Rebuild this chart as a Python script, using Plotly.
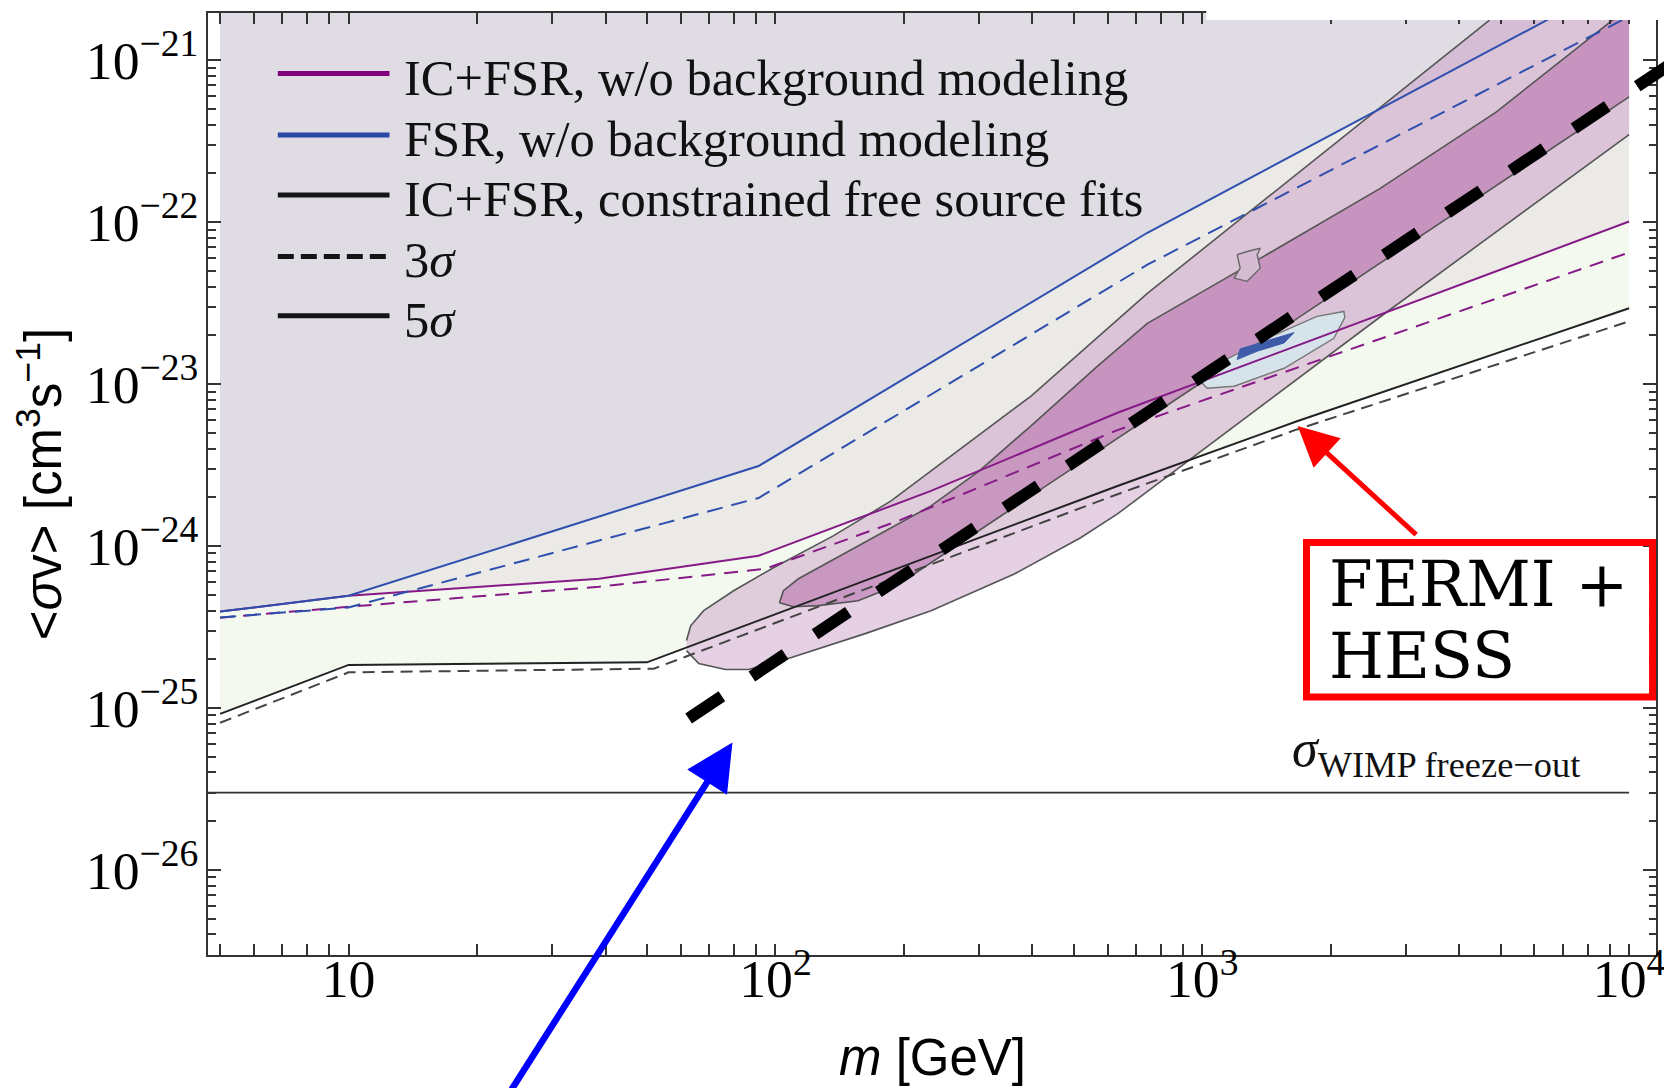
import numpy as np
import plotly.graph_objects as go

# ------------------------------------------------------------------
# Data (m in GeV, <sigma v> in cm^3 s^-1)
# ------------------------------------------------------------------
# FSR, w/o background modeling (5 sigma solid, 3 sigma dashed)
m_fsr5 = [5, 10, 91.3, 743.7, 6398, 10000]
sv_fsr5 = [3.94e-25, 4.93e-25, 3.12e-24, 8.6e-23, 1.76e-21, 3.36e-21]
m_fsr3 = [5, 10, 91.3, 743.7, 10000]
sv_fsr3 = [3.62e-25, 4.18e-25, 1.98e-24, 5.46e-23, 1.86e-21]

# IC+FSR, w/o background modeling
m_ic5 = [5, 10, 38.6, 91.3, 231.5, 633, 10000]
sv_ic5 = [3.94e-25, 4.93e-25, 6.28e-25, 8.71e-25, 2.19e-24, 6.65e-24, 1.009e-22]
m_ic3 = [5, 10, 38.6, 94.8, 193.8, 633, 10000]
sv_ic3 = [3.61e-25, 4.22e-25, 5.61e-25, 7.24e-25, 1.43e-24, 5.20e-24, 6.50e-23]

# IC+FSR, constrained free source fits
m_cfs5 = [5, 10, 50, 633, 1667, 10000]
sv_cfs5 = [9.20e-26, 1.845e-25, 1.914e-25, 2.35e-24, 5.90e-24, 2.94e-23]
m_cfs3 = [5, 10, 51.9, 633, 1667, 10000]
sv_cfs3 = [8.11e-26, 1.66e-25, 1.75e-25, 2.09e-24, 5.25e-24, 2.44e-23]

# Thermal relic (WIMP freeze-out) cross section
SV_WIMP = 3.0e-26
m_wimp = [4.69, 10000]

# FERMI+HESS preferred region: outer band
m_out_up = [61.9, 63.3, 67.9, 79.8, 98.9, 136.6, 186.6, 231.5, 396.4, 743.7, 4710, 5745, 10000]
sv_out_up = [2.61e-25, 3.22e-25, 3.99e-25, 5.30e-25, 7.35e-25, 1.156e-24, 1.90e-24,
             2.90e-24, 8.41e-24, 3.63e-23, 1.77e-21, 2.64e-21, 2.64e-21]
m_out_lo = [10000, 2662, 633, 518.8, 363.8, 231.5, 162.3, 109.0, 86.5, 76.4, 66.1, 61.9]
sv_out_lo = [3.47e-22, 2.70e-23, 1.58e-24, 1.125e-24, 6.75e-25, 3.99e-25, 2.88e-25,
             2.05e-25, 1.73e-25, 1.73e-25, 1.88e-25, 2.26e-25]

# inner (darker) band
m_in_up = [102.2, 104.4, 113.2, 135.1, 165.0, 231.5, 300.0, 396.4, 568.4, 743.7,
           1367, 2606, 4890, 9175, 10000]
sv_in_up = [4.47e-25, 5.30e-25, 6.28e-25, 8.11e-25, 1.076e-24, 1.77e-24, 2.90e-24,
            5.51e-24, 1.29e-23, 2.37e-23, 5.97e-23, 1.61e-22, 4.80e-22, 1.77e-21, 2.13e-21]
m_in_lo = [10000, 2855, 973.4, 331.9, 193.8, 156.2, 126.0, 110.2, 102.2]
sv_in_lo = [5.94e-22, 6.50e-23, 9.84e-24, 1.49e-24, 5.77e-25, 4.59e-25, 4.29e-25, 4.22e-25, 4.47e-25]

# small light-blue best-fit ellipse and its dark core
m_ell = [989, 1084, 1419, 1857, 2147, 2158, 2034, 1555, 1188, 1027, 989]
sv_ell = [1.042e-23, 1.327e-23, 1.919e-23, 2.62e-23, 2.81e-23, 2.58e-23, 1.919e-23,
          1.253e-23, 9.70e-24, 9.44e-24, 1.042e-23]
m_core = [1227, 1419, 1641, 1555, 1345, 1207, 1227]
sv_core = [1.65e-23, 1.85e-23, 2.08e-23, 1.795e-23, 1.596e-23, 1.419e-23, 1.65e-23]

# small isolated island of the contour
m_isl = [1207, 1227, 1188, 1274, 1367, 1345, 1367, 1274, 1207]
sv_isl = [6.29e-23, 5.20e-23, 4.51e-23, 4.31e-23, 5.20e-23, 6.29e-23, 6.90e-23, 6.59e-23, 6.29e-23]

# thick dashed model line
m_model = [62.6, 12500]
sv_model = [8.61e-26, 9.44e-22]

# arrow tips (blue arrow, red arrow)
arrow_tip_m = [79.3, 1673]
arrow_tip_sv = [6.13e-26, 5.51e-24]

SV_TOP = 1e-20

# ------------------------------------------------------------------
# Layout geometry (page pixels; the html body adds an 8 px offset)
# ------------------------------------------------------------------
W, H = 1672, 1088
BODY = 8
PLOT_LEFT, PLOT_TOP, PLOT_RIGHT, PLOT_BOTTOM = 208, 11, 1672, 955
L = PLOT_LEFT - BODY
T = PLOT_TOP - BODY
R = W - (PLOT_RIGHT - BODY)
B = H - (PLOT_BOTTOM - BODY)
AX_RIGHT = 1660
PX_PER_DEC_X = 428.0
X_LOG_MIN = 0.6706
Y_RANGE = [-26.525, -20.7086]
plot_w = PLOT_RIGHT - PLOT_LEFT
plot_h = PLOT_BOTTOM - PLOT_TOP


def px(x):
    return (x - PLOT_LEFT) / plot_w


def py(y):
    return (PLOT_BOTTOM - y) / plot_h


C_LAV = '#dfdde3'
C_GRAY = '#ebeae7'
C_GREEN = '#f4f9ef'
C_PURPLE = '#861a86'
C_BLUE = '#2f4fae'
C_OUT = 'rgba(200,150,195,0.45)'
C_IN = 'rgba(180,110,170,0.55)'
C_EDGE = '#555555'

fig = go.Figure()


def fill(xs, ys, color):
    fig.add_trace(go.Scatter(x=xs, y=ys, mode='lines', fill='toself', fillcolor=color,
                             line=dict(width=0), hoverinfo='skip', showlegend=False))


def line(xs, ys, color, width, dash='solid', xaxis='x'):
    fig.add_trace(go.Scatter(x=xs, y=ys, mode='lines', xaxis=xaxis,
                             line=dict(color=color, width=width, dash=dash),
                             hoverinfo='skip', showlegend=False))


# background exclusion regions
fill(m_fsr5 + [m_fsr5[-1], m_fsr5[0]], sv_fsr5 + [SV_TOP, SV_TOP], C_LAV)
fill(m_fsr5 + m_ic5[::-1], sv_fsr5 + sv_ic5[::-1], C_GRAY)
fill(m_ic5 + m_cfs5[::-1], sv_ic5 + sv_cfs5[::-1], C_GREEN)

# preferred-region contours
fill(m_out_up + m_out_lo, sv_out_up + sv_out_lo, C_OUT)
fill(m_in_up + m_in_lo, sv_in_up + sv_in_lo, C_IN)
line(m_out_up[:-2], sv_out_up[:-2], C_EDGE, 1.6)
line(m_out_lo, sv_out_lo, C_EDGE, 1.6)
line(m_in_up, sv_in_up, C_EDGE, 1.6)
line(m_in_lo, sv_in_lo, C_EDGE, 1.6)
fig.add_trace(go.Scatter(x=m_isl, y=sv_isl, mode='lines', fill='toself', fillcolor='#d6bcd3',
                         line=dict(color='#666666', width=1.4), hoverinfo='skip', showlegend=False))
fig.add_trace(go.Scatter(x=m_ell, y=sv_ell, mode='lines', fill='toself', fillcolor='#d6e3ea',
                         line=dict(color='#777777', width=1.4), hoverinfo='skip', showlegend=False))
fig.add_trace(go.Scatter(x=m_core, y=sv_core, mode='lines', fill='toself', fillcolor='#3f5cab',
                         line=dict(color='#3f5cab', width=1), hoverinfo='skip', showlegend=False))

# limit curves
line(m_wimp, [SV_WIMP, SV_WIMP], '#333333', 1.8)
line(m_cfs3, sv_cfs3, '#444444', 2.0, '12px,7px')
line(m_cfs5, sv_cfs5, '#222222', 2.0)
line(m_ic3, sv_ic3, C_PURPLE, 2.0, '14px,9px')
line(m_ic5, sv_ic5, C_PURPLE, 2.0)
line(m_fsr3, sv_fsr3, C_BLUE, 2.0, '16px,9px')
line(m_fsr5, sv_fsr5, C_BLUE, 2.0)

# thick dashed model line (on a wider twin axis so it can run past the frame)
line(m_model, sv_model, '#000000', 12, '40px,36px', xaxis='x2')

tick_font = dict(family='Liberation Serif', size=43, color='black')
title_font = dict(family='Liberation Sans', size=51, color='black')

fig.update_layout(
    width=W, height=H,
    margin=dict(l=L, r=R, t=T, b=B, pad=0),
    paper_bgcolor='white', plot_bgcolor='rgba(0,0,0,0)',
    showlegend=False,
    xaxis=dict(type='log', domain=[0, px(AX_RIGHT)],
               range=[X_LOG_MIN, X_LOG_MIN + (AX_RIGHT - PLOT_LEFT) / PX_PER_DEC_X],
               dtick=1, exponentformat='power', showgrid=False, zeroline=False,
               showline=True, linecolor='#333333', linewidth=2, mirror='ticks',
               ticks='inside', ticklen=11, tickwidth=1.6, tickcolor='#333333',
               minor=dict(ticks='inside', ticklen=11, tickwidth=1.6, tickcolor='#333333',
                          dtick='D1', showgrid=False),
               tickfont=tick_font, ticklabelstandoff=-22, ticklabeloverflow='allow',
               anchor='y'),
    xaxis2=dict(type='log', domain=[0, 1],
                range=[X_LOG_MIN, X_LOG_MIN + plot_w / PX_PER_DEC_X],
                visible=False, anchor='y', showgrid=False),
    yaxis=dict(type='log', domain=[0, 1], range=Y_RANGE,
               dtick=1, exponentformat='power', showgrid=False, zeroline=False,
               showline=True, linecolor='#333333', linewidth=2, mirror='ticks',
               ticks='inside', ticklen=13, tickwidth=1.6, tickcolor='#333333',
               minor=dict(ticks='inside', ticklen=7.5, tickwidth=1.6, tickcolor='#333333',
                          dtick='D1', showgrid=False),
               tickfont=tick_font, ticklabelstandoff=-1,
               title=dict(text='&lt;<i>σ</i>v&gt; [cm<sup>3</sup>s<sup>−1</sup>]',
                          font=title_font, standoff=18),
               anchor='x'),
)

shapes = []
annotations = []

# x-axis title
annotations.append(dict(xref='paper', yref='paper', x=px(934), y=py(1058),
                        xanchor='center', yanchor='middle', showarrow=False,
                        text='<i>m</i> [GeV]', font=title_font))

# white patch at the top right (as in the reference crop)
shapes.append(dict(type='rect', xref='paper', yref='paper', x0=px(1209), x1=px(1690),
                   y0=py(18), y1=py(-10), fillcolor='white', line=dict(width=0), layer='above'))

# manual legend
leg_labels = ['IC+FSR, w/o background modeling', 'FSR, w/o background modeling',
              'IC+FSR, constrained free source fits', '3<i>σ</i>', '5<i>σ</i>']
leg_colors = ['#800080', '#2a48a8', '#151515', '#151515', '#151515']
leg_dash = ['solid', 'solid', 'solid', '16px,7px', 'solid']
leg_rows = [71.7, 133.3, 193.3, 255.0, 314.3]
for lab, col, dsh, yc in zip(leg_labels, leg_colors, leg_dash, leg_rows):
    shapes.append(dict(type='line', xref='paper', yref='paper', x0=px(278), x1=px(390),
                       y0=py(yc), y1=py(yc), line=dict(color=col, width=5, dash=dsh)))
    annotations.append(dict(xref='paper', yref='paper', x=px(403), y=py(yc + 4),
                            xanchor='left', yanchor='middle', showarrow=False, text=lab,
                            font=dict(family='Liberation Serif', size=50.5, color='#111111')))

# sigma WIMP label
annotations.append(dict(xref='paper', yref='paper', x=px(1293), y=py(752),
                        xanchor='left', yanchor='middle', showarrow=False,
                        text='<i>σ</i><sub>WIMP freeze−out</sub>',
                        font=dict(family='Liberation Serif', size=52, color='#111111')))

# FERMI + HESS box
shapes.append(dict(type='rect', xref='paper', yref='paper', x0=px(1309.5), x1=px(1656.5),
                   y0=py(696.5), y1=py(541.5), line=dict(color='#ff0000', width=7),
                   fillcolor='rgba(0,0,0,0)', layer='above'))
for txt, yc in zip(['FERMI +', 'HESS'], [584, 656]):
    annotations.append(dict(xref='paper', yref='paper', x=px(1330), y=py(yc),
                            xanchor='left', yanchor='middle', showarrow=False, align='left',
                            text=txt, font=dict(family='DejaVu Serif', size=63, color='black')))

# arrows
tip_x = np.log10(arrow_tip_m)
tip_y = np.log10(arrow_tip_sv)
annotations.append(dict(xref='x', yref='y', x=tip_x[0], y=tip_y[0], text='', showarrow=True,
                        ax=-224, ay=352, arrowhead=2, arrowsize=1.45, arrowwidth=6.5,
                        arrowcolor='#0000ff', standoff=0))
annotations.append(dict(xref='x', yref='y', x=tip_x[1], y=tip_y[1], text='', showarrow=True,
                        ax=120, ay=110, arrowhead=2, arrowsize=1.6, arrowwidth=5,
                        arrowcolor='#ff0000', standoff=0))

fig.update_layout(shapes=shapes, annotations=annotations)
fig.write_html('out.html')
